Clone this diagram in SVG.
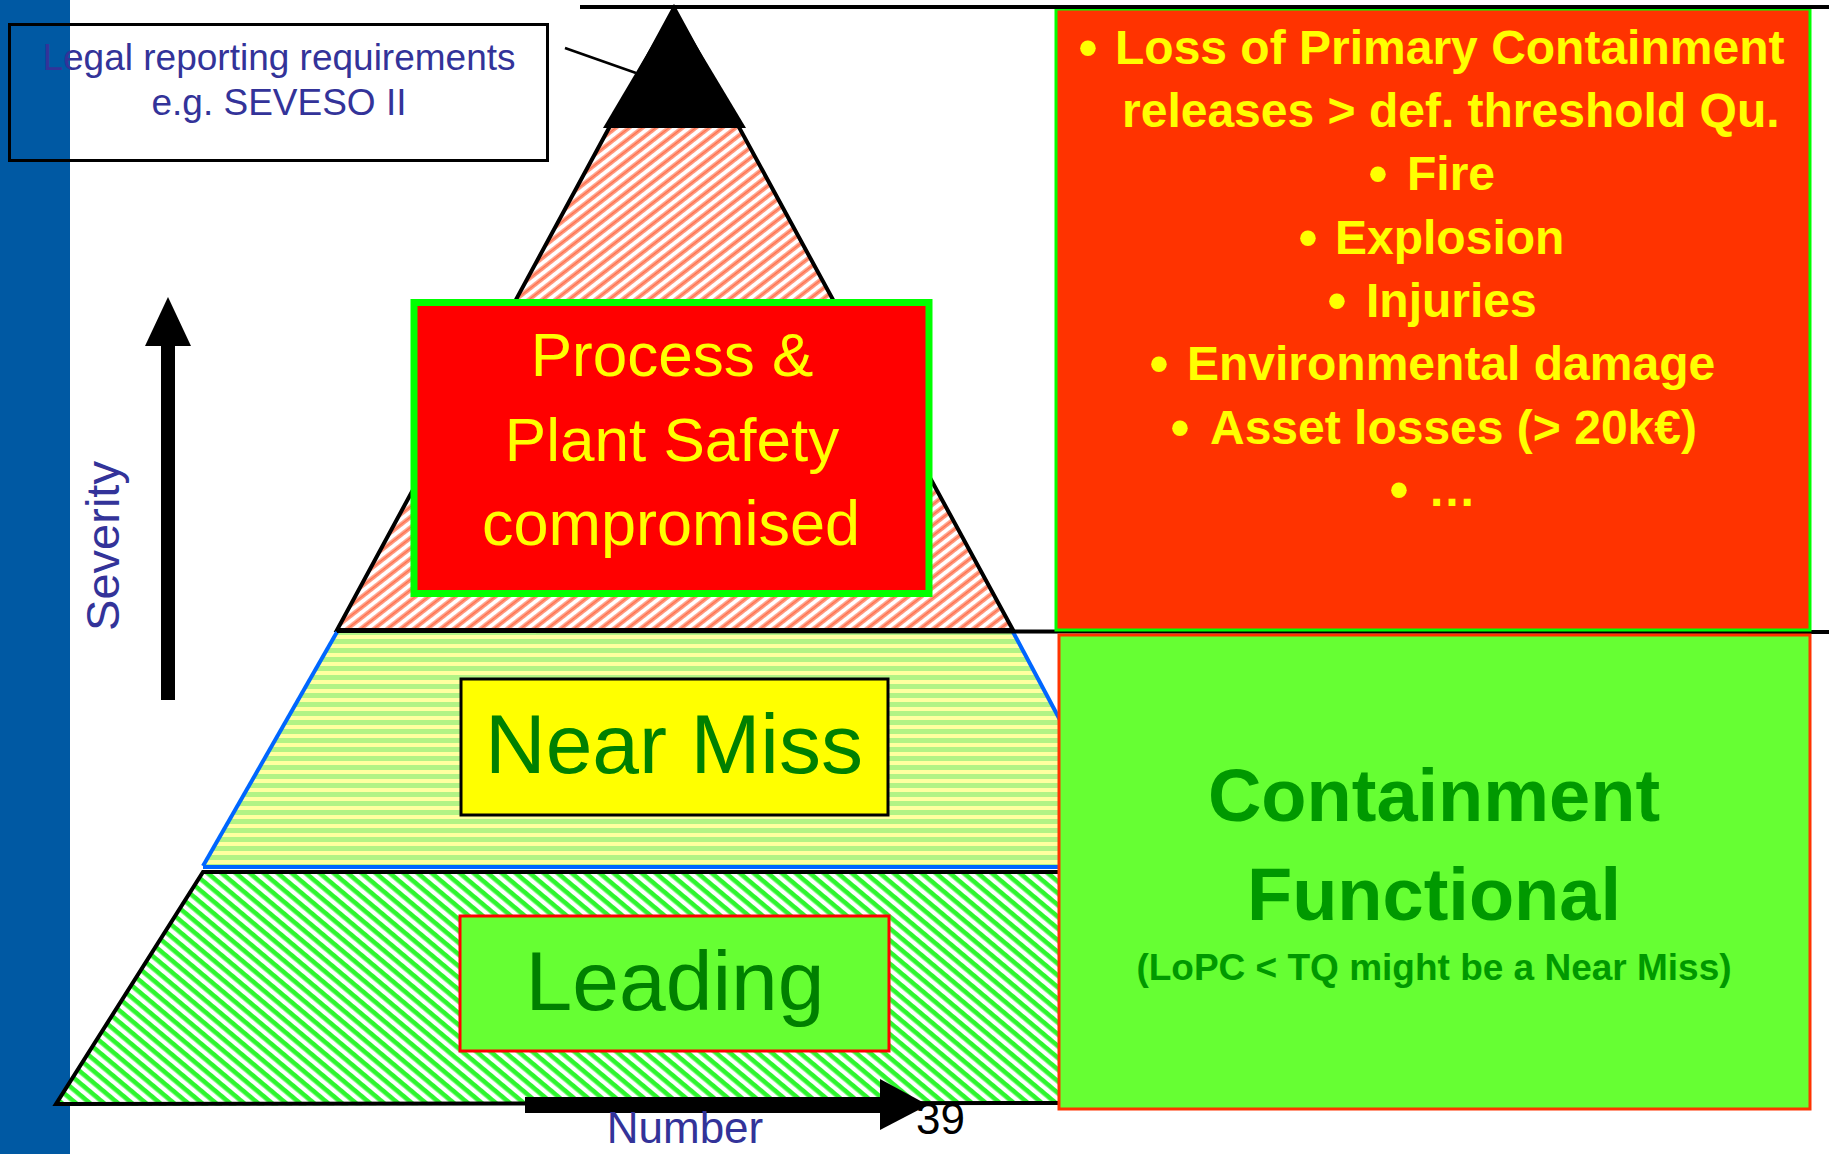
<svg xmlns="http://www.w3.org/2000/svg" width="1829" height="1154" viewBox="0 0 1829 1154">
<style>
text{font-family:"Liberation Sans",Arial,sans-serif}
.blue{fill:#333399}
.yb{fill:#FFFF00;font-weight:bold;font-size:48px}
.bul{fill:#FFFF00;font-weight:bold;font-size:54px;text-anchor:middle}
.gb{fill:#009900;font-weight:bold;text-anchor:middle}
.blk{stroke:#000;stroke-linecap:butt}
.edge{stroke:#0066FF;stroke-width:4;fill:none}
</style>
<defs>
<pattern id="hatchRed" patternUnits="userSpaceOnUse" width="20" height="8.2" patternTransform="rotate(-38)">
<rect width="20" height="8.2" fill="#FFFFFF"/>
<rect y="2" width="20" height="4.4" fill="#FF9A80"/>
<rect y="3.7" width="20" height="1" fill="#FF6A45"/>
</pattern>
<pattern id="stripeGY" patternUnits="userSpaceOnUse" width="20" height="9">
<rect width="20" height="9" fill="#FFFFA0"/>
<rect width="20" height="5" fill="#B2F385"/>
</pattern>
<pattern id="hatchGreen" patternUnits="userSpaceOnUse" width="20" height="9" patternTransform="rotate(40)">
<rect width="20" height="9" fill="#FFFFFF"/>
<rect y="2" width="20" height="4.6" fill="#2EF52E"/>
</pattern>
</defs>

<rect id="sidebar" x="0" y="0" width="70" height="1154" fill="#0059A3"/>

<g id="pyramid">
<g id="tier-top">
<polygon points="674,8 1013,630 337,630" fill="url(#hatchRed)" stroke="#000" stroke-width="4"/>
<polygon points="674,8 746,128 603,128" fill="#000"/>
</g>
<g id="tier-middle">
<polygon points="337,632 1013,632 1060,720 1060,868 203,868" fill="url(#stripeGY)"/>
<line class="edge" x1="337" y1="632" x2="203" y2="866"/>
<line class="edge" x1="1013" y1="632" x2="1060" y2="720"/>
<line class="edge" x1="203" y1="867" x2="1060" y2="867"/>
</g>
<g id="tier-bottom">
<polygon points="203,872 1060,872 1060,1104 56,1106" fill="url(#hatchGreen)"/>
<polyline fill="none" stroke="#000" stroke-width="4" points="1060,872 203,872 56,1104 1060,1103"/>
</g>
</g>

<g id="rules">
<line class="blk" stroke-width="4" x1="580" y1="7" x2="1829" y2="7"/>
<line class="blk" stroke-width="4" x1="337" y1="631" x2="1829" y2="632"/>
</g>

<g id="loss-box">
<rect x="1056" y="9" width="754" height="621" fill="#FF3300" stroke="#00FF00" stroke-width="3"/>
<line class="blk" stroke-width="4" x1="1040" y1="7" x2="1829" y2="7"/>
<text class="bul" x="1088" y="66">•</text>
<text class="yb" x="1115" y="64">Loss of Primary Containment</text>
<text class="yb" x="1122" y="127">releases &gt; def. threshold Qu.</text>
<text class="bul" x="1378" y="192">•</text>
<text class="yb" x="1407" y="190">Fire</text>
<text class="bul" x="1308" y="256">•</text>
<text class="yb" x="1335" y="254">Explosion</text>
<text class="bul" x="1337" y="319">•</text>
<text class="yb" x="1366" y="317">Injuries</text>
<text class="bul" x="1159" y="382">•</text>
<text class="yb" x="1187" y="380">Environmental damage</text>
<text class="bul" x="1180" y="446">•</text>
<text class="yb" x="1210" y="444">Asset losses (&gt; 20k€)</text>
<text class="bul" x="1399" y="508">•</text>
<text class="yb" x="1428" y="506">…</text>
</g>

<g id="containment-box">
<rect x="1059" y="635" width="751" height="474" fill="#66FF33" stroke="#FF3300" stroke-width="3"/>
<text class="gb" x="1434" y="821" font-size="74">Containment</text>
<text class="gb" x="1434" y="920" font-size="74">Functional</text>
<text class="gb" x="1434" y="980" font-size="37">(LoPC &lt; TQ might be a Near Miss)</text>
</g>

<g id="process-box">
<rect x="414" y="302.5" width="515" height="291" fill="#FF0000" stroke="#00FF00" stroke-width="7"/>
<text x="672" y="376" font-size="62" fill="#FFFF00" text-anchor="middle">Process &amp;</text>
<text x="672" y="461" font-size="62" fill="#FFFF00" text-anchor="middle">Plant Safety</text>
<text x="671" y="545" font-size="63" fill="#FFFF00" text-anchor="middle">compromised</text>
</g>

<g id="near-miss-box">
<rect x="461" y="679" width="427" height="136" fill="#FFFF00" stroke="#000" stroke-width="3"/>
<text x="674" y="773" font-size="84" fill="#008000" text-anchor="middle">Near Miss</text>
</g>

<g id="leading-box">
<rect x="460" y="916" width="429" height="135" fill="#66FF33" stroke="#FF0000" stroke-width="3"/>
<text x="675" y="1010" font-size="84" fill="#008000" text-anchor="middle">Leading</text>
</g>

<g id="legal-box">
<rect x="9.5" y="24.5" width="538" height="136" fill="none" stroke="#000" stroke-width="3"/>
<text class="blue" x="279" y="70" font-size="37" text-anchor="middle">Legal reporting requirements</text>
<text class="blue" x="279" y="115" font-size="37" text-anchor="middle">e.g. SEVESO II</text>
</g>

<g id="connectors">
<line x1="565" y1="48" x2="636" y2="73" stroke="#000" stroke-width="2.5"/>
</g>

<g id="severity-axis">
<rect x="161" y="340" width="14" height="360" fill="#000"/>
<polygon points="168,297 191,346 145,346" fill="#000"/>
<text class="blue" transform="translate(119,546) rotate(-90)" font-size="47" text-anchor="middle">Severity</text>
</g>

<g id="number-axis">
<rect x="525" y="1097" width="357" height="16" fill="#000"/>
<polygon points="880,1079 928,1105 880,1130" fill="#000"/>
<text class="blue" x="685" y="1143" font-size="44" text-anchor="middle">Number</text>
</g>

<text id="page-number" x="916" y="1134" font-size="44" fill="#000">39</text>
</svg>
